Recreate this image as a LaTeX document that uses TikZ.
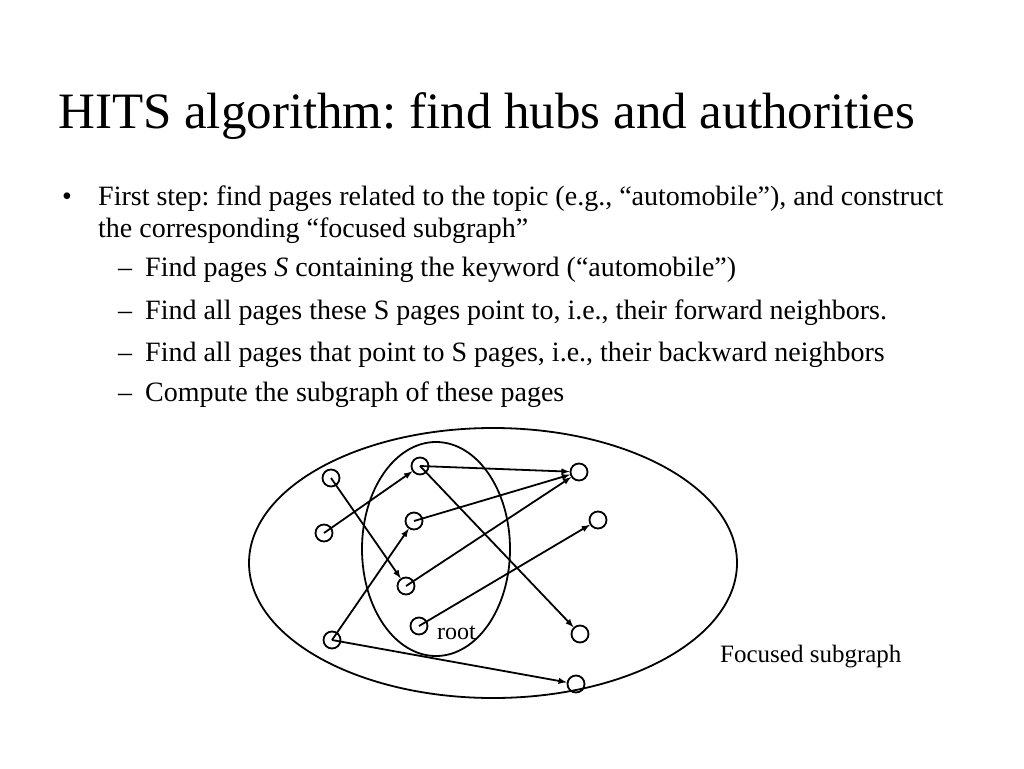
\documentclass[tikz,border=0pt]{standalone}
\usepackage{fontspec}
\setmainfont{Liberation Serif}
\frenchspacing
\begin{document}
\begin{tikzpicture}[x=1pt,y=-1pt,
  pg/.style={circle,draw,line width=1.8pt,minimum size=17pt,inner sep=0pt},
  ed/.style={-latex,line width=1.8pt},
  txt/.style={anchor=base west,inner sep=0pt,font=\fontsize{28}{32}\selectfont}]
\useasboundingbox (0,0) rectangle (1024,768);
\node[anchor=base west,inner sep=0pt,font=\fontsize{51}{56}\selectfont] (title) at (58,128) {HITS algorithm: find hubs and authorities};
\node[txt] (b0) at (62,205) {•};
\node[txt] (b1) at (98,205) {First step: find pages related to the topic (e.g., “automobile”), and construct};
\node[txt] (b2) at (98,237) {the corresponding “focused subgraph”};
\node[txt] (d1) at (118,276) {–};
\node[txt] (s1) at (145,276) {Find pages \textit{S} containing the keyword (“automobile”)};
\node[txt] (d2) at (118,319) {–};
\node[txt] (s2) at (145,319) {Find all pages these S pages point to, i.e., their forward neighbors.};
\node[txt] (d3) at (118,361) {–};
\node[txt] (s3) at (145,361) {Find all pages that point to S pages, i.e., their backward neighbors};
\node[txt] (d4) at (118,401) {–};
\node[txt] (s4) at (145,401) {Compute the subgraph of these pages};
\draw[line width=1.8pt] (493,563) ellipse [x radius=244, y radius=135];
\draw[line width=1.8pt] (436,549) ellipse [x radius=74, y radius=107];
\node[pg] (A) at (331,478) {};
\node[pg] (B) at (324,533) {};
\node[pg] (C) at (420,466) {};
\node[pg] (D) at (414,521) {};
\node[pg] (E) at (406,586) {};
\node[pg] (F) at (419,626) {};
\node[pg] (G) at (579,472) {};
\node[pg] (H) at (598,520) {};
\node[pg] (I) at (580,634) {};
\node[pg] (J) at (332,640) {};
\node[pg] (K) at (576,684) {};
\draw[ed] (B.center) -- (C);
\draw[ed] (A.center) -- (E);
\draw[ed] (C.center) -- (G);
\draw[ed] (C.center) -- (I);
\draw[ed] (D.center) -- (G);
\draw[ed] (E.center) -- (G);
\draw[ed] (J.center) -- (D);
\draw[ed] (J.center) -- (K);
\draw[ed] (F.center) -- (H);
\node[anchor=base west,inner sep=0pt,font=\fontsize{24}{28}\selectfont] (root) at (437,639) {root};
\node[anchor=base west,inner sep=0pt,font=\fontsize{25}{28}\selectfont] (fs) at (720,662) {Focused subgraph};
\end{tikzpicture}
\end{document}
